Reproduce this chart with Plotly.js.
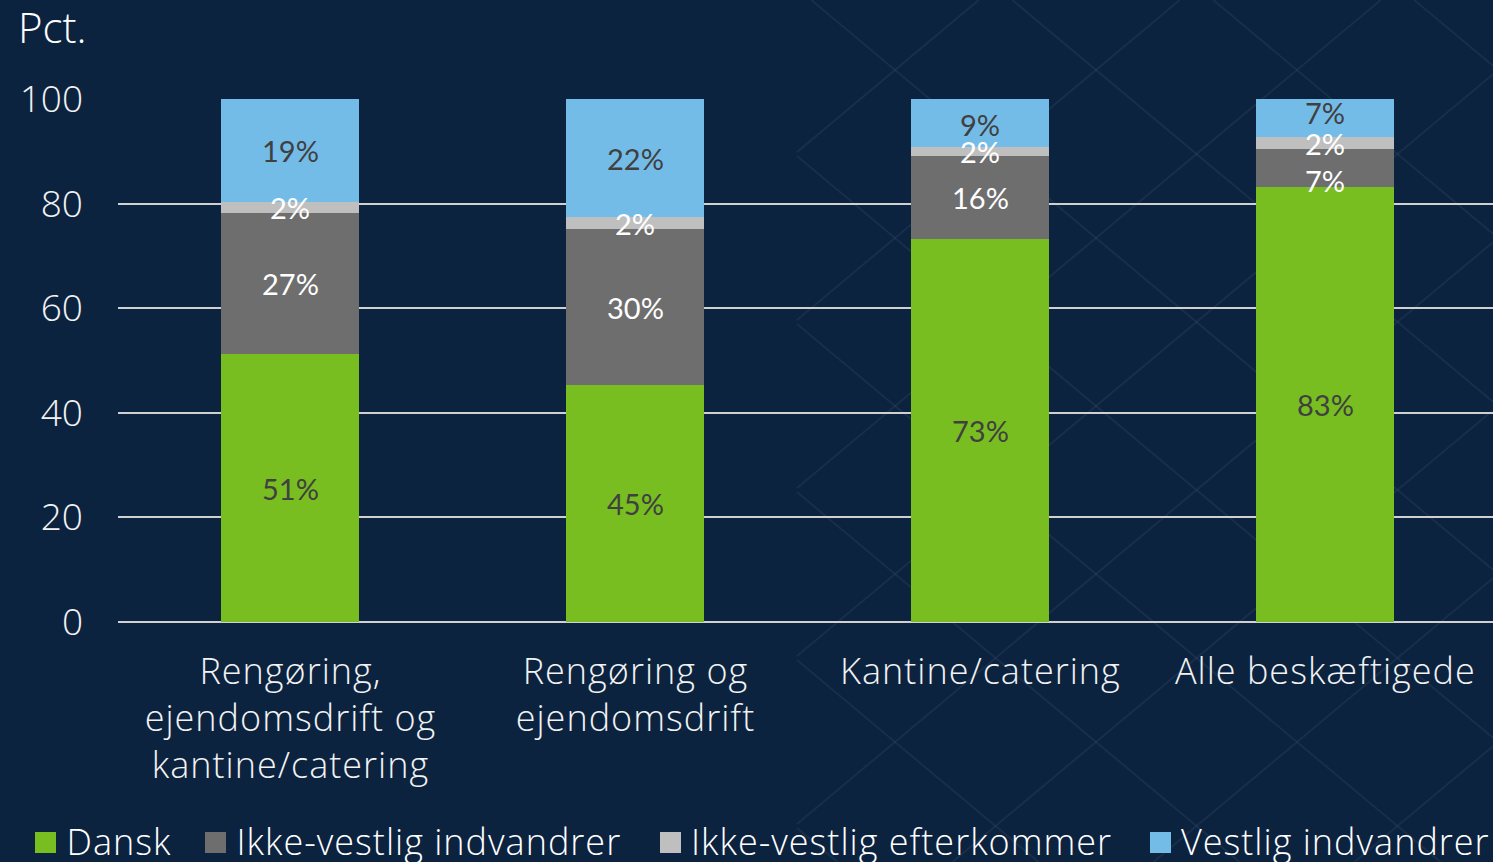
<!DOCTYPE html>
<html>
<head>
<meta charset="utf-8">
<script src="https://cdn.plot.ly/plotly-3.0.1.min.js"></script>
<style>
html,body{margin:0;padding:0;background:#0c2340;}
#chart{width:1493px;height:862px;}
#chart .xtick text{letter-spacing:1px;}
</style>
</head>
<body>
<div id="chart"></div>
<script>
const categories = ["Rengøring,<br>ejendomsdrift og<br>kantine/catering", "Rengøring og<br>ejendomsdrift", "Kantine/catering", "Alle beskæftigede"];
const seriesNames = ["Dansk", "Ikke-vestlig indvandrer", "Ikke-vestlig efterkommer", "Vestlig indvandrer"];
const dansk = [51.2, 45.3, 73.2, 83.2];
const ikkeVestligIndvandrer = [27.0, 29.8, 15.9, 7.2];
const ikkeVestligEfterkommer = [2.1, 2.3, 1.7, 2.3];
const vestligIndvandrer = [19.7, 22.6, 9.2, 7.3];
const danskLabels = ["51%", "45%", "73%", "83%"];
const ikkeVestligIndvandrerLabels = ["27%", "30%", "16%", "7%"];
const ikkeVestligEfterkommerLabels = ["2%", "2%", "2%", "2%"];
const vestligIndvandrerLabels = ["19%", "22%", "9%", "7%"];
const yTicks = [0, 20, 40, 60, 80, 100];

// ---- styling ----
const colors = ["#78be20", "#6e6e6e", "#bfbfbf", "#74bce8"];
const textColors = ["#404040", "#ffffff", "#ffffff", "#404040"];
const values = [dansk, ikkeVestligIndvandrer, ikkeVestligEfterkommer, vestligIndvandrer];
const labels = [danskLabels, ikkeVestligIndvandrerLabels, ikkeVestligEfterkommerLabels, vestligIndvandrerLabels];
// small label nudges (pixels) to keep crowded labels apart, per series/category
const labelNudge = [[0,0,0,0],[0,0,0,-12],[0,0,0,0],[0,0,-1,6]];
const legendX = [35, 205, 660, 1150]; // pixel left of each legend swatch
const LEGEND_TRACK = 1; // px letter spacing of legend texts

const FONT = "'Open Sans', Lato, sans-serif";
const LABEL_FONT = "Lato, 'Open Sans', sans-serif";
const W = 1493, H = 862, L = 118, T = 99, B = 240;
const plotW = W - L, plotH = H - T - B;
const px2x = x => (x - L) / plotW;
const px2y = y => (H - B - y) / plotH;

const traces = seriesNames.map((name, i) => ({
  type: "bar",
  name: name,
  x: categories,
  y: values[i],
  marker: {color: colors[i], line: {width: 0}},
  hoverinfo: "skip",
  showlegend: false
}));

// data labels at the middle of each stacked segment
const annotations = [];
categories.forEach((c, j) => {
  let base = 0;
  values.forEach((vals, i) => {
    const v = vals[j];
    annotations.push({
      x: c, y: base + v / 2, xref: "x", yref: "y",
      text: labels[i][j], showarrow: false,
      xanchor: "center", yanchor: "middle",
      yshift: labelNudge[i][j],
      font: {size: 29, color: textColors[i], family: LABEL_FONT}
    });
    base += v;
  });
});

// "Pct." label
annotations.push({
  text: "Pct.", xref: "paper", yref: "paper",
  x: px2x(16), y: px2y(27), xanchor: "left", yanchor: "middle",
  showarrow: false,
  font: {size: 42, color: "#ffffff", family: FONT, weight: 300}
});

// legend (swatches + labels)
const shapes = [];
seriesNames.forEach((name, i) => {
  const x0 = legendX[i];
  shapes.push({
    type: "rect", xref: "paper", yref: "paper", layer: "above",
    x0: px2x(x0), x1: px2x(x0 + 21), y0: px2y(832), y1: px2y(853),
    fillcolor: colors[i], line: {width: 0}
  });
  annotations.push({
    text: name, xref: "paper", yref: "paper",
    // compensate for the centred growth caused by the letter spacing
    x: px2x(x0 + 29 + name.length * LEGEND_TRACK / 2), y: px2y(841),
    xanchor: "left", yanchor: "middle",
    showarrow: false,
    font: {size: 36, color: "#ffffff", family: FONT, weight: 300}
  });
});

// faint diamond background pattern (decoration)
const s = 84 / 100.5, xa = 797, xb = W;
function addLine(y0at895, sign) {
  const f = x => y0at895 + sign * s * (x - 895);
  const g = y => 895 + (y - y0at895) / (sign * s);
  let pts = [];
  [[xa, f(xa)], [xb, f(xb)], [g(0), 0], [g(H), H]].forEach(p => {
    if (p[0] >= xa - 0.01 && p[0] <= xb + 0.01 && p[1] >= -0.01 && p[1] <= H + 0.01) pts.push(p);
  });
  if (pts.length < 2) return;
  pts.sort((a, b) => a[0] - b[0]);
  const p0 = pts[0], p1 = pts[pts.length - 1];
  if (Math.abs(p0[0] - p1[0]) < 1) return;
  shapes.push({
    type: "line", xref: "paper", yref: "paper", layer: "below",
    x0: px2x(p0[0]), y0: px2y(p0[1]), x1: px2x(p1[0]), y1: px2y(p1[1]),
    line: {color: "rgba(255,255,255,0.05)", width: 2}
  });
}
for (let n = -8; n <= 8; n++) {
  addLine(70 + 168 * n, 1);
  addLine(70 + 168 * n, -1);
}

const layout = {
  width: W,
  height: H,
  paper_bgcolor: "#0c2340",
  plot_bgcolor: "rgba(0,0,0,0)",
  barmode: "stack",
  bargap: 0.6,
  margin: {l: L, r: 0, t: T, b: B, pad: 0, autoexpand: false},
  font: {family: FONT, color: "#ffffff"},
  showlegend: false,
  xaxis: {
    type: "category",
    range: [-0.5, 3.486],
    showgrid: false,
    zeroline: false,
    showline: false,
    ticks: "",
    tickfont: {size: 36, color: "#f2f2f2", family: FONT, weight: 300},
    ticklabelstandoff: 25,
    fixedrange: true
  },
  yaxis: {
    range: [0, 100],
    tickvals: yTicks,
    ticktext: yTicks.map(String),
    showgrid: true,
    gridcolor: "#d0d0d0",
    gridwidth: 2,
    zeroline: true,
    zerolinecolor: "#d0d0d0",
    zerolinewidth: 2,
    showline: false,
    ticks: "",
    tickfont: {size: 37, color: "#f2f2f2", family: FONT, weight: 300},
    ticklabelstandoff: 34,
    fixedrange: true
  },
  shapes: shapes,
  annotations: annotations
};

Plotly.newPlot("chart", traces, layout, {displayModeBar: false, staticPlot: true}).then(gd => {
  // slightly wider tracking for legend texts, as in the reference typeface
  gd.querySelectorAll("g.annotation text").forEach(t => {
    if (seriesNames.includes(t.textContent)) t.style.letterSpacing = LEGEND_TRACK + "px";
  });
});
</script>
</body>
</html>
